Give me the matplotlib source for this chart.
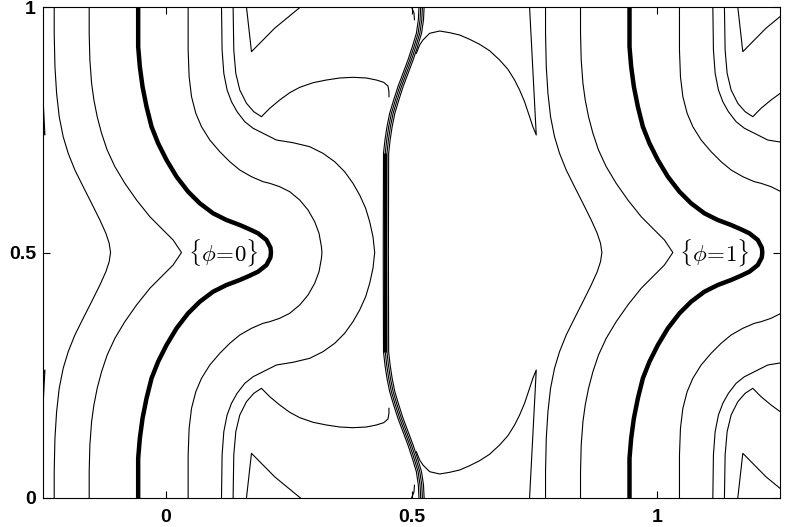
import numpy as np
import matplotlib
matplotlib.use('Agg')
import matplotlib.pyplot as plt

plt.rcParams['mathtext.fontset'] = 'cm'
plt.rcParams['font.family'] = ['Liberation Sans', 'DejaVu Sans']
plt.rcParams['xtick.labelsize'] = 14
plt.rcParams['ytick.labelsize'] = 14
plt.rcParams['font.weight'] = 'bold'

# ---- data: upper half (y from 1 down to 0.5) of the contour curves of one period ----
# the picture is mirror-symmetric about y = 0.5 and periodic in x with period 1
a_x = [-0.2272, -0.2272, -0.2257, -0.2223, -0.2170, -0.2089, -0.1987, -0.1851, -0.1682,
       -0.1511, -0.1342, -0.1220, -0.1153, -0.1125]
a_y = [1.0, 0.9464, 0.8784, 0.8242, 0.7766, 0.7358, 0.7020, 0.6680, 0.6340,
       0.6002, 0.5662, 0.5391, 0.5187, 0.5]
b_x = [-0.1560, -0.1560, -0.1546, -0.1511, -0.1464, -0.1397, -0.1308, -0.1194, -0.1037,
       -0.0834, -0.0596, -0.0325, -0.0055, 0.0148, 0.0319]
b_y = [1.0, 0.9464, 0.8921, 0.8446, 0.8106, 0.7766, 0.7428, 0.7088, 0.6748,
       0.6409, 0.6069, 0.5729, 0.5458, 0.5255, 0.5]
zero_x = [-0.0563, -0.0563, -0.0529, -0.0474, -0.0393, -0.0291, -0.0157, 0.0014, 0.0218,
          0.0454, 0.0691, 0.0962, 0.1234, 0.1505, 0.1700, 0.1877, 0.2048, 0.2129, 0.2140]
zero_y = [1.0, 0.9192, 0.8784, 0.8377, 0.7970, 0.7562, 0.7224, 0.6884, 0.6544,
          0.6238, 0.6002, 0.5798, 0.5662, 0.5560, 0.5475, 0.5391, 0.5255, 0.5100, 0.5]
d_x = [0.0454, 0.0454, 0.0474, 0.0523, 0.0610, 0.0726, 0.0895, 0.1098, 0.1302, 0.1505,
       0.1743, 0.1979, 0.2115, 0.2318, 0.2522, 0.2725, 0.2894, 0.3030, 0.3118, 0.3167, 0.3177]
d_y = [1.0, 0.9124, 0.8581, 0.8173, 0.7835, 0.7562, 0.7291, 0.7053, 0.6849, 0.6680,
       0.6544, 0.6442, 0.6409, 0.6340, 0.6238, 0.6069, 0.5866, 0.5627, 0.5391, 0.5118, 0.5]
e_x = [0.1133, 0.1145, 0.1180, 0.1247, 0.1336, 0.1450, 0.1607, 0.1776, 0.1979, 0.2251,
       0.2589, 0.2929, 0.3199, 0.3437, 0.3640, 0.3809, 0.3945, 0.4067, 0.4149, 0.4216, 0.4251]
e_y = [1.0, 0.9124, 0.8649, 0.8310, 0.8072, 0.7868, 0.7664, 0.7530, 0.7428, 0.7291,
       0.7236, 0.7155, 0.7020, 0.6849, 0.6645, 0.6409, 0.6171, 0.5900, 0.5627, 0.5322, 0.5]
bundle_x = [0.5152, 0.5139, 0.5099, 0.5017, 0.4928, 0.4826, 0.4724, 0.4637, 0.4556,
            0.4501, 0.4460, 0.4430, 0.4425]
bundle_y = [1.0, 0.9735, 0.9464, 0.9192, 0.8921, 0.8649, 0.8377, 0.8106, 0.7835,
            0.7562, 0.7291, 0.7020, 0.5]
bundle_shift = [0.0, 0.0035, 0.007, 0.0105]
# curves that stay in the upper half (mirrored copies in the lower half)
f_x = [0.1369, 0.1383, 0.1424, 0.1505, 0.1641, 0.1790, 0.1946, 0.2115, 0.2318, 0.2522,
       0.2725, 0.2996, 0.3268, 0.3539, 0.3809, 0.4082, 0.4285, 0.4434, 0.4521, 0.4541, 0.4541]
f_y = [1.0, 0.9124, 0.8649, 0.8310, 0.8039, 0.7868, 0.7766, 0.7937, 0.8106, 0.8255,
       0.8364, 0.8458, 0.8513, 0.8554, 0.8568, 0.8554, 0.8513, 0.8466, 0.8391, 0.8275, 0.8173]
g_x = [0.1641, 0.1743, 0.2217, 0.2740]
g_y = [1.0, 0.9090, 0.9570, 1.0]
h_x = [0.5099, 0.5166, 0.5233, 0.5369, 0.5573, 0.5776, 0.5979, 0.6183, 0.6386, 0.6589,
       0.6793, 0.6962, 0.7098, 0.7200, 0.7301, 0.7403, 0.7470, 0.7539, 0.7403]
h_y = [0.9057, 0.9226, 0.9328, 0.9464, 0.9511, 0.9477, 0.9430, 0.9342, 0.9240, 0.9110,
       0.8921, 0.8731, 0.8513, 0.8310, 0.8072, 0.7766, 0.7562, 0.7393, 1.0]
hook_x = [0.500, 0.505, 0.506]
hook_y = [1.0, 0.988, 0.974]
# thick vertical piece in the middle
mid_x = [0.4465, 0.4465]
mid_y = [0.703, 0.297]

x_ticks = [0, 0.5, 1]
x_tick_labels = ['0', '0.5', '1']
y_ticks = [0, 0.5, 1]
y_tick_labels = ['0', '0.5', '1']
level_labels = [r'$\{\phi\!=\!0\}$', r'$\{\phi\!=\!1\}$']
label_x = [0.045, 1.045]
periods = [-1, 0, 1]


def full(xs, ys):
    xs = np.asarray(xs, float)
    ys = np.asarray(ys, float)
    return (np.concatenate([xs, xs[::-1][1:]]),
            np.concatenate([ys, 1.0 - ys[::-1][1:]]))


W, H = 806, 527
fig = plt.figure(figsize=(W / 100, H / 100), dpi=100)
ax = fig.add_axes([43 / W, 29 / H, 737 / W, 491 / H])

thin = dict(color='black', lw=0.8, solid_joinstyle='round')
for s in periods:
    for cx, cy in [(a_x, a_y), (b_x, b_y), (d_x, d_y), (e_x, e_y)]:
        X, Y = full(cx, cy)
        ax.plot(X + s, Y, **thin)
    X, Y = full(zero_x, zero_y)
    ax.plot(X + s, Y, color='black', lw=3.2, solid_capstyle='butt', solid_joinstyle='round')
    for off in bundle_shift:
        X, Y = full(bundle_x, bundle_y)
        ax.plot(X + s + off, Y, **thin)
    ax.plot(np.asarray(mid_x) + s, mid_y, color='black', lw=2.4, solid_capstyle='butt')
    for cx, cy in [(f_x, f_y), (g_x, g_y), (h_x, h_y), (hook_x, hook_y)]:
        cx = np.asarray(cx) + s
        cy = np.asarray(cy)
        ax.plot(cx, cy, **thin)
        ax.plot(cx, 1.0 - cy, **thin)

for lx, txt in zip(label_x, level_labels):
    ax.text(lx, 0.5, txt, fontsize=16.5, ha='left', va='center', fontweight='normal')

ax.set_xlim(-0.25, 1.25)
ax.set_ylim(0, 1)
ax.tick_params(direction='in', length=5, width=0.8, top=True, right=True)
ax.tick_params(axis='x', pad=8)
ax.tick_params(axis='y', pad=5)
ax.set_xticks(x_ticks, x_tick_labels)
ax.set_yticks(y_ticks, y_tick_labels)
for sp in ax.spines.values():
    sp.set_linewidth(0.8)

fig.savefig('out.png', dpi=100)
